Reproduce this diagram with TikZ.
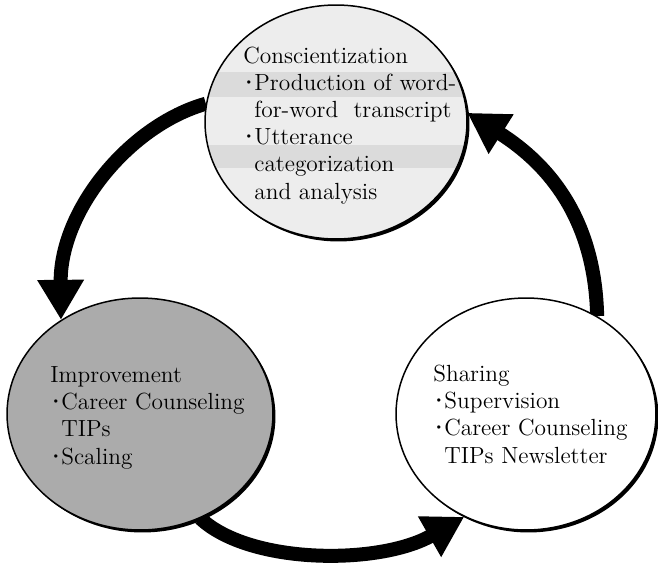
\documentclass[tikz,border=0pt]{standalone}
\usepackage{tikz}
\usetikzlibrary{arrows.meta,shapes.geometric,shadows,backgrounds,calc}

\tikzset{
  bubble/.style={ellipse, draw, line width=0.03cm, inner sep=0pt,
    drop shadow={shadow xshift=0.05cm, shadow yshift=-0.05cm, opacity=1, fill=black}},
  stagetext/.style={anchor=base west, align=left, inner sep=0pt,
    font=\fontsize{13.3}{15.4}\selectfont},
  cyclearrow/.style={line width=0.28cm, -{Triangle[length=0.8cm,width=0.88cm]}},
}
\newcommand{\bul}{\makebox[0.22cm][c]{\textbf{\textperiodcentered}}}
\newcommand{\bulind}{\hspace*{0.22cm}}

\begin{document}
\begin{tikzpicture}[x=0.02cm, y=-0.02cm]
\useasboundingbox (0,0) rectangle (658,564);

\node[bubble, fill=black!7, minimum width=5.24cm, minimum height=4.68cm,
  path picture={
    \fill[black!14] ($(path picture bounding box.north west)+(0,67)$) rectangle ($(path picture bounding box.north east)+(0,92)$);
    \fill[black!14] ($(path picture bounding box.north west)+(0,140)$) rectangle ($(path picture bounding box.north east)+(0,163)$);
  }] (consc) at (336,122) {};
\node[bubble, fill=black!33, minimum width=5.32cm, minimum height=4.64cm] (impr) at (140,414) {};
\node[bubble, fill=white, minimum width=5.2cm, minimum height=4.64cm] (shar) at (526,414) {};

\node[stagetext] (conscT) at (243,199) {Conscientization\\ \bul Production of word-\\ \bulind for-word\ \ transcript\\ \bul Utterance\\ \bulind categorization\\ \bulind and analysis};
\node[stagetext] (imprT) at (50,464) {Improvement\\ \bul Career Counseling\\ \bulind TIPs\\ \bul Scaling};
\node[stagetext] (sharT) at (433,463) {Sharing\\ \bul Supervision\\ \bul Career Counseling\\ \bulind TIPs Newsletter};

\begin{scope}[on background layer]
  \draw[cyclearrow] (consc.172) .. controls (130,125) and (60,210) .. (impr.130);
  \draw[cyclearrow] (impr.-60) .. controls (250,565) and (380,565) .. (shar.-121);
  \draw[cyclearrow] (shar.54) .. controls (595,220) and (550,165) .. (consc.4);
\end{scope}
\end{tikzpicture}
\end{document}
